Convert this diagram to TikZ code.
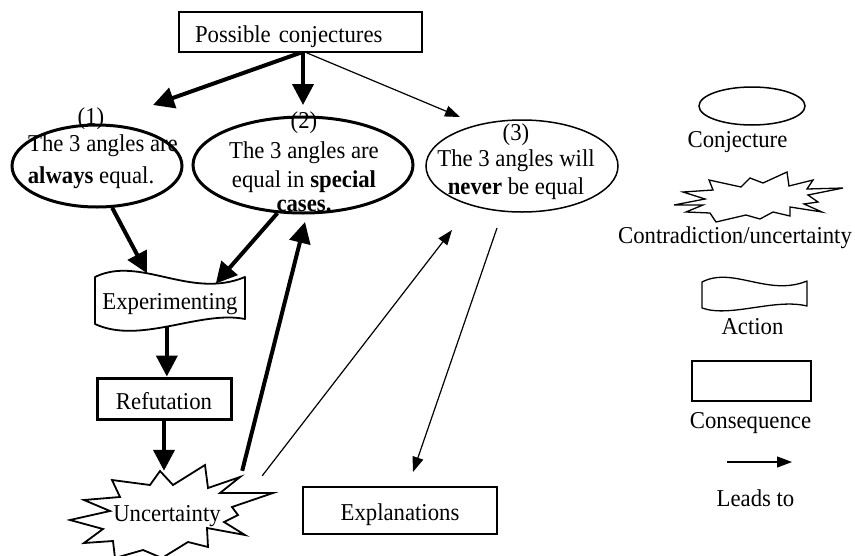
\documentclass[tikz,border=0pt]{standalone}
\usepackage{fontspec}
\setmainfont{Liberation Serif}[FakeStretch=0.94]
\usetikzlibrary{arrows.meta,shapes.geometric,calc}
\begin{document}
\begin{tikzpicture}[x=1pt,y=-1pt,
  txt/.style={font=\fontsize{24.2}{27}\selectfont, inner sep=0pt},
  conj/.style={ellipse, draw, inner sep=0pt},
  boxthin/.style={draw, line width=1.5pt},
  boxthick/.style={draw, line width=3pt},
  thickarr/.style={line width=4pt, -{Triangle[length=21pt,width=21pt]}},
  thinarr/.style={line width=1.2pt, -{Triangle[length=15pt,width=11pt]}},
  tapeline/.style={line width=1.8pt, line join=round},
  starline/.style={line width=1.8pt, line join=miter, fill=white}]
\useasboundingbox (0,0) rectangle (855,555);

% top box
\node[txt, boxthin, minimum width=243pt, minimum height=40pt, text width=211pt,
      inner xsep=16pt, align=left, text height=21pt, text depth=0pt] (pc) at (300.5,32) {Possible conjectures};

% conjectures
\node[conj, line width=3pt, minimum width=170pt, minimum height=82pt] (e1) at (97,166) {};
\node[conj, line width=3pt, minimum width=220pt, minimum height=96pt] (e2) at (303,165) {};
\node[conj, line width=1.5pt, minimum width=192pt, minimum height=92pt] (e3) at (522,166) {};
\node[txt, anchor=north, align=center] (t1) at (91,105.1)
  {\strut(1)\\\strut\hspace*{24pt}The 3 angles are\\[5pt]\strut\textbf{always} equal.};
\node[txt, anchor=north, align=center] (t2) at (304,109.6)
  {\strut(2)\\[2.5pt]\strut The 3 angles are\\[2pt]\strut equal in \textbf{special}\\[-3pt]\strut\textbf{cases.}};
\node[txt, anchor=north, align=center] (t3) at (516,121.6)
  {\strut(3)\\[-1.5pt]\strut The 3 angles will\\[1pt]\strut\textbf{never} be equal};

% experimenting (action)
\draw[tapeline] (95,277) .. controls (140,255) and (190,300) .. (245,277)
   coordinate[pos=0.37] (expT1) coordinate[pos=0.82] (expT2)
   -- (245,319) .. controls (200,310) and (140,345) .. (95,324)
   coordinate[pos=0.52] (expB) -- cycle;
\node[txt, anchor=base] (exp) at (170,309) {Experimenting};

% refutation
\node[txt, boxthick, minimum width=134pt, minimum height=41pt, text height=21pt, text depth=0pt] (ref) at (164,398.5) {Refutation};

% uncertainty
\draw[starline] (160,471) -- (173,485) -- (205,465) -- (208,488) -- (240,477) -- (220,493)
  -- (273,493) -- (232,507) -- (238,515) -- (224,522) -- (245,535) -- (207,528)
  -- (208,547) -- (188,542) -- (162,558) -- (143,550) -- (115,558) -- (113,541)
  -- (84,543) -- (103,529) -- (70,520) -- (110,511) -- (84,500) -- (120,497)
  -- (112,480) -- (150,485) -- cycle;
\node[txt, anchor=base, text height=50pt, minimum width=150pt] (unc) at (167,521) {Uncertainty};
\coordinate (uncR) at ($(unc.north east)+(20,5)$);

% explanations
\node[txt, boxthin, minimum width=194pt, minimum height=47pt, text height=19pt, text depth=0pt] (expl) at (400,510.5) {Explanations};

% free arrow ends
\coordinate (c1) at (153,105);
\coordinate (c2) at (303,105);
\coordinate (c3) at (460,117);
\coordinate (c8) at (305,222);
\coordinate (c9) at (452,230);
\coordinate (c10) at (497,228);
\coordinate (c10e) at (413,472);

% connectors
\draw[thickarr] (pc.south) -- (c1);
\draw[thickarr] (pc.south -| c2) -- (c2);
\draw[thinarr] ($(pc.south)+(6,0)$) -- (c3);
\draw[thickarr] (e1.-70) -- (expT1);
\draw[thickarr] (e2.242) -- (expT2);
\draw[thickarr] (expB) -- (expB |- ref.north);
\draw[thickarr] (ref.south) -- (ref.south |- unc.north);
\draw[thickarr] (unc.north east) -- (c8);
\draw[thinarr] (uncR) -- (c9);
\draw[thinarr] (c10) -- (c10e);

% legend
\node[conj, line width=1.5pt, minimum width=106pt, minimum height=38pt] (lgE) at (752,106) {};
\node[txt, anchor=base] (lgEt) at (737.5,147) {Conjecture};
\draw[starline, line width=1.3pt] (674,205) -- (705,199) -- (683,192) -- (713,190) -- (709,180)
  -- (741,187) -- (750,178) -- (763,183) -- (787,172) -- (789,186) -- (813,180)
  -- (807,189) -- (843,188) -- (808,195) -- (818,202) -- (804,204) -- (822,212)
  -- (790,207) -- (790,216) -- (773,212) -- (760,219) -- (746,215) -- (716,222)
  -- (710,213) -- (686,212) -- (703,205) -- cycle;
\node[txt, anchor=base] (lgSt) at (735,243) {Contradiction/uncertainty};
\draw[tapeline, line width=1.3pt] (702,282) .. controls (733,266) and (768,297) .. (807,281)
   -- (807,306) .. controls (775,298) and (730,318) .. (702,308) -- cycle;
\node[txt, anchor=base] (lgAt) at (752.5,334) {Action};
\node[boxthin, minimum width=119pt, minimum height=40pt, inner sep=0pt] (lgB) at (751.5,381) {};
\node[txt, anchor=base] (lgBt) at (750.5,428) {Consequence};
\coordinate (la1) at (727,462);
\coordinate (la2) at (792,462);
\draw[thinarr] (la1) -- (la2);
\node[txt, anchor=base] (lgLt) at (755.5,506.7) {Leads to};
\end{tikzpicture}
\end{document}
